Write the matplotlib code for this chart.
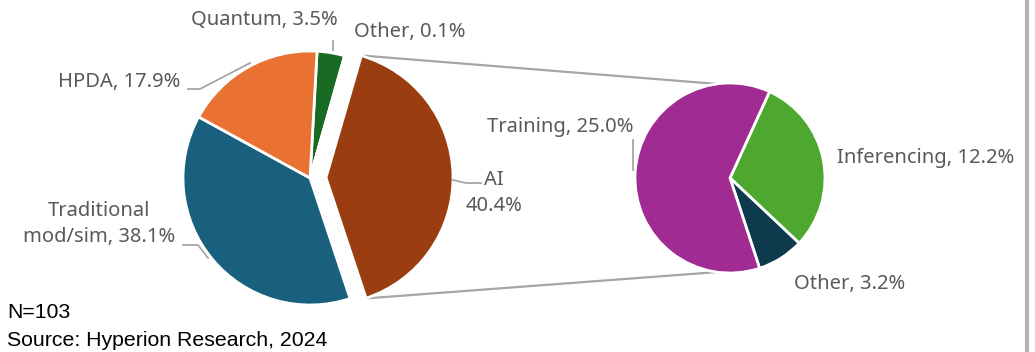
import matplotlib.pyplot as plt
import numpy as np

# workload share of HPC sites, AI broken out further
main_labels = ["Quantum, 3.5%", "Other, 0.1%", "AI\n40.4%", "Traditional\nmod/sim, 38.1%", "HPDA, 17.9%"]
main_values = [3.5, 0.1, 40.4, 38.1, 17.9]
main_colors = ["#196B24", "#7F7F7F", "#9A3E12", "#19607F", "#E97132"]

ai_labels = ["Inferencing, 12.2%", "Other, 3.2%", "Training, 25.0%"]
ai_values = [12.2, 3.2, 25.0]
ai_colors = ["#4EA72E", "#0E3A4E", "#A02B93"]

note_lines = ["N=103", "Source: Hyperion Research, 2024"]

H = 352
fig = plt.figure(figsize=(10.35, 3.52), dpi=100)
ax = fig.add_axes([0, 0, 1, 1])

font = ["Noto Sans", "DejaVu Sans"]
gray = "#595959"

main_c = (310, H - 178)
main_r = 127
explode = [0, 0, 16, 0, 0]  # pie explode is in data units here
wedges, _ = ax.pie(main_values, colors=main_colors, startangle=86.8, counterclock=False,
                   explode=explode, center=main_c, radius=main_r, frame=True,
                   wedgeprops=dict(edgecolor="white", linewidth=2))

ai_c = (730, H - 178)
ai_r = 95
ax.pie(ai_values, colors=ai_colors, startangle=65.4, counterclock=False,
       center=ai_c, radius=ai_r, frame=True,
       wedgeprops=dict(edgecolor="white", linewidth=2))

ax.set_xlim(0, 1035)
ax.set_ylim(0, H)
ax.set_aspect("equal")
ax.axis("off")

# connector lines from the exploded AI wedge to the breakout pie
ai_w = wedges[2]
cx, cy = ai_w.center
for th, end_ang in [(ai_w.theta2, 98), (ai_w.theta1, -98)]:
    x0 = cx + main_r * np.cos(np.radians(th))
    y0 = cy + main_r * np.sin(np.radians(th))
    x1 = ai_c[0] + ai_r * np.cos(np.radians(end_ang))
    y1 = ai_c[1] + ai_r * np.sin(np.radians(end_ang))
    ax.plot([x0 + 3, x1], [y0, y1], color="#A6A6A6", lw=1.6, zorder=0)


def label(x, y, s, ha="center"):
    ax.text(x, H - y, s, ha=ha, va="center", fontsize=14.5, color=gray,
            family=font, linespacing=1.4)


def leader(xs, ys):
    ax.plot(xs, [H - v for v in ys], color="#A6A6A6", lw=1.3)


label(264, 20, main_labels[0])
leader([333, 333], [41, 50])
label(410, 32, main_labels[1])
label(119, 82, main_labels[4])
leader([188, 200, 250], [89, 89, 63])
label(99, 224, main_labels[3])
leader([183, 198, 208], [245, 245, 258])
label(494, 193, main_labels[2])
leader([453, 466, 481], [180, 183, 183])

label(560, 127, ai_labels[2])
leader([633, 633], [140, 170])
label(926, 158, ai_labels[0])
label(850, 284, ai_labels[1])

ax.text(7, H - 313, note_lines[0], ha="left", va="center", fontsize=15.3,
        family="Liberation Sans", color="black")
ax.text(7, H - 340, note_lines[1], ha="left", va="center", fontsize=15.3,
        family="Liberation Sans", color="black")

# slide frame edge on the right
ax.plot([1027, 1027], [0, H], color="#B4B4B4", lw=3)

fig.savefig("out.png", dpi=100)
